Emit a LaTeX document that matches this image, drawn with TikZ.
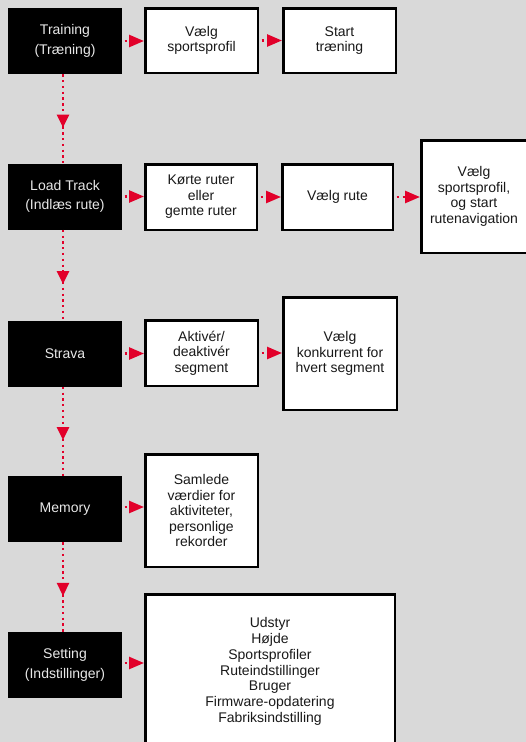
\documentclass[tikz,border=0pt]{standalone}
\usepackage{fontspec}
\setmainfont{Liberation Sans}
\usetikzlibrary{arrows.meta,decorations.markings}
\definecolor{bg}{RGB}{217,217,217}
\definecolor{arrowred}{RGB}{226,0,42}
\definecolor{lighttext}{RGB}{232,232,232}
\definecolor{darktext}{RGB}{25,25,25}
\begin{document}
\begin{tikzpicture}[x=1pt,y=-1pt,
  menubox/.style={fill=black, text=lighttext, minimum width=114pt, minimum height=66pt,
    inner sep=0pt, align=center, font=\fontsize{14}{19.3}\selectfont},
  optbox/.style={draw=black, line width=2.5pt, fill=white, text=darktext, inner sep=0pt,
    align=center, font=\fontsize{14}{15.5}\selectfont},
  hflow/.style={draw=arrowred, line width=2.5pt, dash pattern=on 2.5pt off 3.5pt, dash phase=3.5pt,
    -{Triangle[length=15pt,width=12pt]}},
  vflow/.style={draw=arrowred, line width=2.5pt, dash pattern=on 2.3pt off 3.5pt,
    postaction={decorate},
    decoration={markings, mark=at position 0.6 with {\arrow[arrowred]{Triangle[length=13pt,width=12pt]}}}}
]
\useasboundingbox (0,0) rectangle (526,742);
\clip (0,0) rectangle (526,742);
\fill[bg] (0,0) rectangle (526,742);

% menu boxes
\node[menubox] (train) at (65,41) {Training\\(Træning)};
\node[menubox] (load) at (65,196.5) {Load Track\\(Indlæs rute)};
\node[menubox] (strava) at (65,353.5) {Strava};
\node[menubox] (mem) at (65,509) {Memory};
\node[menubox] (sett) at (65,665) {Setting\\(Indstillinger)};

% option boxes
\node[optbox, minimum width=112.5pt, minimum height=64.5pt] (vsp) at (201.5,40.5) {Vælg\\sportsprofil};
\node[optbox, minimum width=112.5pt, minimum height=64.5pt] (start) at (339.5,40.5) {Start\\træning};
\node[optbox, minimum width=111.5pt, minimum height=65.5pt] (korte) at (201,197) {Kørte ruter\\eller\\gemte ruter};
\node[optbox, minimum width=110.5pt, minimum height=65.5pt] (vrute) at (337.5,197) {Vælg rute};
\node[optbox, minimum width=105.5pt, minimum height=112.5pt] (vsprute) at (474,196.5) {Vælg\\sportsprofil,\\og start\\rutenavigation};
\node[optbox, minimum width=112.5pt, minimum height=65.5pt] (akt) at (201.5,353) {Aktivér/\\deaktivér\\segment};
\node[optbox, minimum width=113.5pt, minimum height=112.5pt] (konk) at (340,353.5) {Vælg\\konkurrent for\\hvert segment};
\node[optbox, minimum width=112.5pt, minimum height=112.5pt] (saml) at (201.5,510.5) {Samlede\\værdier for\\aktiviteter,\\personlige\\rekorder};
\node[optbox, minimum width=249.5pt, minimum height=154.5pt, font=\fontsize{14}{15.8}\selectfont] (opts) at (270,671.5)
  {Udstyr\\Højde\\Sportsprofiler\\Ruteindstillinger\\Bruger\\Firmware-opdatering\\Fabriksindstilling};

% vertical connectors
\draw[vflow] ([xshift=-2pt]train.south) -- ([xshift=-2pt]load.north);
\draw[vflow] ([xshift=-2pt]load.south) -- ([xshift=-2pt]strava.north);
\draw[vflow] ([xshift=-2pt]strava.south) -- ([xshift=-2pt]mem.north);
\draw[vflow] ([xshift=-2pt]mem.south) -- ([xshift=-2pt]sett.north);

% horizontal connectors
\draw[hflow] (train.east) -- (train.east -| vsp.west);
\draw[hflow] (vsp.east) -- (vsp.east -| start.west);
\draw[hflow] (load.east) -- (load.east -| korte.west);
\draw[hflow] (korte.east) -- (korte.east -| vrute.west);
\draw[hflow] (vrute.east) -- (vrute.east -| vsprute.west);
\draw[hflow] (strava.east) -- (strava.east -| akt.west);
\draw[hflow] (akt.east) -- (akt.east -| konk.west);
\draw[hflow] ([yshift=2pt]mem.east) -- ([yshift=2pt]mem.east -| saml.west);
\draw[hflow] ([yshift=2pt]sett.east) -- ([yshift=2pt]sett.east -| opts.west);
\end{tikzpicture}
\end{document}
